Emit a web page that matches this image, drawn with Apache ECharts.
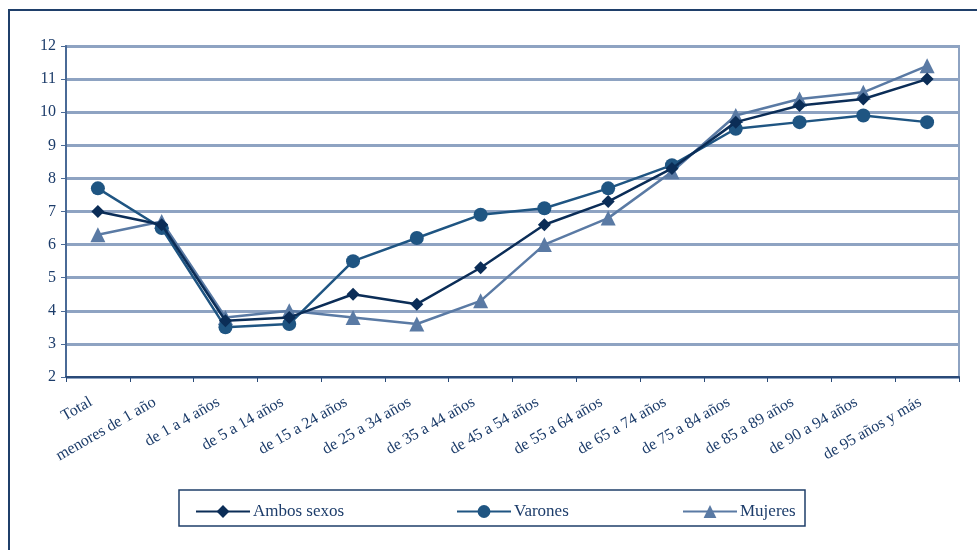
<!DOCTYPE html>
<html lang="es">
<head>
    <meta charset="UTF-8">
    <title>Tasa por grupo de edad</title>
    <script src="https://cdn.jsdelivr.net/npm/echarts@6/dist/echarts.min.js"></script>
    <style>
        html, body { margin: 0; padding: 0; background: #fff; }
        #main { width: 977px; height: 550px; }
    </style>
</head>
<body>
<div id="main"></div>
<script>
    var categorias = ['Total', 'menores de 1 año', 'de 1 a 4 años', 'de 5 a 14 años', 'de 15 a 24 años',
        'de 25 a 34 años', 'de 35 a 44 años', 'de 45 a 54 años', 'de 55 a 64 años', 'de 65 a 74 años',
        'de 75 a 84 años', 'de 85 a 89 años', 'de 90 a 94 años', 'de 95 años y más'];
    var ambos   = [7.0, 6.6, 3.7, 3.8, 4.5, 4.2, 5.3, 6.6, 7.3, 8.3, 9.7, 10.2, 10.4, 11.0];
    var varones = [7.7, 6.5, 3.5, 3.6, 5.5, 6.2, 6.9, 7.1, 7.7, 8.4, 9.5, 9.7, 9.9, 9.7];
    var mujeres = [6.3, 6.7, 3.8, 4.0, 3.8, 3.6, 4.3, 6.0, 6.8, 8.2, 9.9, 10.4, 10.6, 11.4];

    var colAmbos = '#0b2d57';
    var colVarones = '#1f5582';
    var colMujeres = '#5a7aa4';
    var gridCol = '#8ea3c2';
    var txtCol = '#1c3c6a';
    var fuente = 'Liberation Serif';

    var myChart = echarts.init(document.getElementById('main'));

    function legendItem(name, left) {
        return {
            left: left,
            top: 498,
            data: [name],
            itemWidth: 54,
            itemHeight: 16,
            itemGap: 4,
            textStyle: {color: txtCol, fontFamily: fuente, fontSize: 17, padding: [0, 0, 0, -2]},
            selectedMode: false
        };
    }

    var option = {
        animation: false,
        backgroundColor: '#fff',
        legend: [
            legendItem('Ambos sexos', 190),
            legendItem('Varones', 451),
            legendItem('Mujeres', 677)
        ],
        grid: {
            left: 66,
            right: 18,
            top: 46,
            bottom: 173,
            show: true,
            borderColor: gridCol,
            borderWidth: 2
        },
        xAxis: {
            type: 'category',
            data: categorias,
            boundaryGap: true,
            axisLine: {lineStyle: {color: '#2a4a78', width: 2}},
            axisTick: {show: true, length: 5, lineStyle: {color: '#2a4a78'}},
            axisLabel: {
                rotate: 30,
                interval: 0,
                margin: 20,
                padding: [0, 8, 0, 0],
                color: txtCol,
                fontFamily: fuente,
                fontSize: 16
            },
            splitLine: {show: false}
        },
        yAxis: {
            type: 'value',
            min: 2,
            max: 12,
            interval: 1,
            axisLine: {show: true, lineStyle: {color: '#4a6a96', width: 2}},
            axisTick: {show: true, length: 5, lineStyle: {color: '#4a6a96'}},
            axisLabel: {color: txtCol, fontFamily: fuente, fontSize: 16, margin: 10},
            splitLine: {lineStyle: {color: gridCol, width: 3}}
        },
        graphic: [{
            type: 'rect',
            shape: {x: 9, y: 10, width: 1000, height: 600},
            style: {fill: 'none', stroke: '#1f3f6a', lineWidth: 2},
            silent: true
        }, {
            type: 'rect',
            shape: {x: 179, y: 490, width: 626, height: 36},
            style: {fill: 'none', stroke: '#1f3f6a', lineWidth: 1.5},
            silent: true
        }],
        series: [{
            name: 'Ambos sexos',
            type: 'line',
            data: ambos,
            symbol: 'diamond',
            symbolSize: 13,
            z: 5,
            itemStyle: {color: colAmbos},
            lineStyle: {color: colAmbos, width: 2.5}
        }, {
            name: 'Varones',
            type: 'line',
            data: varones,
            symbol: 'circle',
            symbolSize: 14,
            z: 4,
            itemStyle: {color: colVarones},
            lineStyle: {color: colVarones, width: 2.5}
        }, {
            name: 'Mujeres',
            type: 'line',
            data: mujeres,
            symbol: 'triangle',
            symbolSize: 15,
            z: 3,
            itemStyle: {color: colMujeres},
            lineStyle: {color: colMujeres, width: 2.5}
        }]
    };
    myChart.setOption(option);
</script>
</body>
</html>
